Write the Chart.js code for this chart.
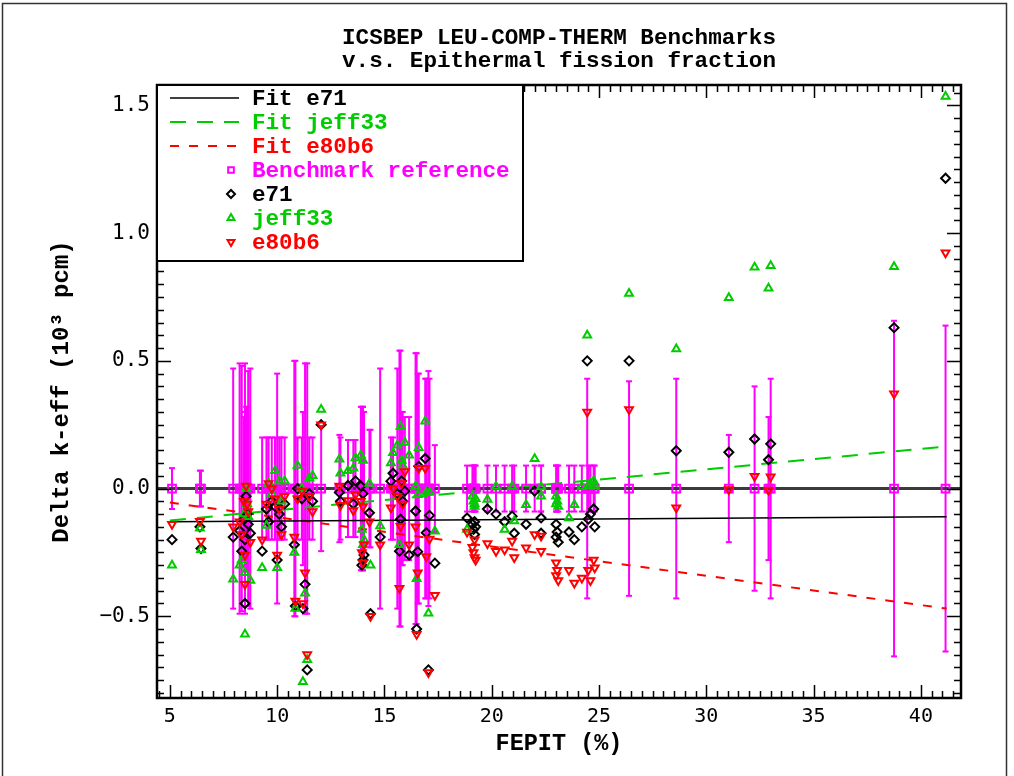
<!DOCTYPE html>
<html>
<head>
<meta charset="utf-8">
<script src="https://cdn.jsdelivr.net/npm/chart.js@4.4.1/dist/chart.umd.min.js"></script>
<style>
  html, body { margin: 0; padding: 0; background: #fff; }
  #wrap { width: 1014px; height: 776px; }
</style>
</head>
<body>
<div id="wrap"><canvas id="myChart" width="1014" height="776"></canvas></div>
<script>
// benchmark FEPIT (%) and reference uncertainty (10^3 pcm)
const fepit = [
  5.1, 6.4, 6.45,
  7.95, 8.25, 8.35, 8.5, 8.55, 8.6, 8.65, 8.75, 8.5, 8.45,
  9.3, 9.5, 9.6, 9.75, 9.9, 10.0, 10.1, 10.2, 10.35,
  10.8, 10.85, 10.95, 11.15, 11.2, 11.3, 11.4, 11.5, 11.65, 12.05,
  12.9, 12.95, 13.3, 13.55, 13.65, 13.9, 13.95, 14.0, 14.0, 14.05, 14.3, 14.35, 14.8,
  15.3, 15.4, 15.6, 15.75, 15.7, 15.8, 15.85, 15.95, 16.15, 16.45, 16.5, 16.6, 16.55, 16.9, 16.95, 17.05, 17.1, 17.35,
  18.85, 19.1, 19.15, 19.2, 19.25, 19.2, 19.8, 20.2, 20.6, 20.95, 21.05, 21.6, 22.0, 22.3, 22.3,
  23.0, 23.05, 23.1, 23.0, 23.6, 23.85, 24.2, 24.5, 24.75, 24.8, 24.6,
  24.45, 26.4, 28.6, 31.05, 32.25, 32.9, 33.0, 38.75, 41.15
];
const refUnc = [
  0.08, 0.07, 0.07,
  0.47, 0.49, 0.48, 0.49, 0.32, 0.32, 0.46, 0.47, 0.30, 0.28,
  0.2, 0.2, 0.2, 0.2, 0.2, 0.45, 0.2, 0.2, 0.2,
  0.50, 0.50, 0.2, 0.2, 0.3, 0.49, 0.49, 0.2, 0.2, 0.245,
  0.21, 0.2, 0.19, 0.19, 0.19, 0.32, 0.32, 0.32, 0.32, 0.30, 0.23, 0.23, 0.47,
  0.2, 0.2, 0.47, 0.54, 0.54, 0.30, 0.30, 0.28, 0.28, 0.53, 0.53, 0.45, 0.45, 0.43, 0.43, 0.46, 0.43, 0.17,
  0.09, 0.09, 0.09, 0.09, 0.09, 0.09, 0.09, 0.09, 0.09, 0.09, 0.09, 0.09, 0.09, 0.09, 0.09,
  0.09, 0.09, 0.09, 0.09, 0.09, 0.09, 0.09, 0.09, 0.09, 0.09, 0.09,
  0.43, 0.42, 0.43, 0.21, 0.40, 0.28, 0.43, 0.657, 0.638
];
// delta k-eff (10^3 pcm) per library
const e71 = [
  -0.20, -0.15, -0.235,
  -0.19, -0.165, -0.245, -0.45, -0.03, -0.10, -0.14, -0.175, -0.20, -0.12,
  -0.245, -0.08, -0.13, -0.05, -0.07, -0.28, -0.10, -0.15, -0.06,
  -0.22, -0.46, 0.0, -0.04, -0.47, -0.375, -0.71, -0.02, -0.05, 0.25,
  -0.015, -0.05, 0.012, -0.06, 0.03, 0.01, -0.30, -0.02, -0.28, -0.26, -0.095, -0.49, -0.19,
  0.029, 0.06, -0.02, -0.12, -0.245, 0.03, -0.05, -0.01, -0.26, -0.088, -0.55, 0.087, -0.247, 0.118, -0.173, -0.71, -0.105, -0.292,
  -0.115, -0.14, -0.16, -0.18, -0.15, -0.13, -0.08, -0.10, -0.13, -0.108, -0.175, -0.14, -0.01, -0.115, -0.175,
  -0.14, -0.17, -0.21, -0.19, -0.17, -0.20, -0.15, -0.12, -0.08, -0.15, -0.10,
  0.50, 0.50, 0.148, 0.142, 0.194, 0.113, 0.175, 0.63, 1.215
];
const jeff33 = [
  -0.30, -0.155, -0.24,
  -0.355, -0.30, -0.28, -0.57, 0.0, -0.06, -0.11, -0.36, -0.33, -0.10,
  -0.31, -0.145, 0.02, -0.02, 0.07, -0.31, 0.03, -0.05, 0.03,
  -0.25, -0.47, 0.09, 0.0, -0.756, -0.41, -0.67, 0.04, 0.05, 0.31,
  0.115, 0.06, 0.07, 0.08, 0.12, 0.13, -0.16, 0.11, -0.22, -0.20, 0.02, -0.30, -0.147,
  0.10, 0.14, 0.17, 0.243, -0.22, 0.11, 0.09, 0.18, 0.13, 0.009, -0.353, 0.16, -0.024, 0.264, -0.015, -0.488, -0.015, -0.167,
  -0.16, -0.03, -0.05, -0.07, -0.04, -0.06, -0.043, 0.008, -0.16, 0.008, -0.127, -0.063, 0.117, 0.006, -0.03,
  -0.03, -0.05, -0.07, -0.06, -0.115, -0.063, 0.008, 0.01, 0.03, 0.01, 0.02,
  0.60, 0.764, 0.546, 0.747, 0.866, 0.784, 0.872, 0.868, 1.535
];
const e80b6 = [
  -0.14, -0.128, -0.205,
  -0.15, -0.13, -0.18, -0.375, 0.01, -0.06, -0.09, -0.21, -0.26, -0.05,
  -0.20, -0.06, 0.02, 0.0, -0.04, -0.26, -0.08, -0.18, -0.03,
  -0.19, -0.44, -0.04, -0.01, -0.45, -0.33, -0.65, -0.03, -0.09, 0.25,
  0.01, -0.065, -0.047, -0.086, -0.023, -0.05, -0.25, -0.07, -0.29, -0.22, -0.13, -0.50, -0.22,
  -0.075, 0.0, -0.03, -0.148, -0.39, 0.02, -0.06, 0.067, -0.22, -0.15, -0.57, 0.08, -0.33, 0.08, -0.266, -0.72, -0.197, -0.418,
  -0.17, -0.23, -0.25, -0.27, -0.28, -0.20, -0.215, -0.245, -0.24, -0.205, -0.27, -0.232, -0.18, -0.186, -0.245,
  -0.29, -0.32, -0.36, -0.34, -0.32, -0.37, -0.35, -0.32, -0.28, -0.31, -0.36,
  0.30, 0.31, -0.075, -0.004, 0.048, -0.006, 0.046, 0.371, 0.923
];
// linear fits, end points
const fitX = [5.0, 41.2];
const fitE71 = [-0.13, -0.11];
const fitJeff33 = [-0.125, 0.165];
const fitE80b6 = [-0.055, -0.47];

const xRange = [4.4, 41.87];
const yRange = [-0.82, 1.58];
const xTicks = [5, 10, 15, 20, 25, 30, 35, 40];
const yTicks = [-0.5, 0.0, 0.5, 1.0, 1.5];

const MAGENTA = '#ff00ff', GREEN = '#00cc00', RED = '#ff0000', BLACK = '#000000';
const CLEAR = 'rgba(0,0,0,0)';

const pts = arr => fepit.map((x, i) => ({ x: x, y: arr[i] }));
const fit = arr => fitX.map((x, i) => ({ x: x, y: arr[i] }));
const errBars = fepit.flatMap((x, i) => [
  { x: x, y: -refUnc[i] }, { x: x, y: refUnc[i] }, { x: x, y: null }
]);

const pointSet = (label, data, color, style, rot, r, order) => ({
  label: label, data: data, showLine: false, order: order,
  pointStyle: style, rotation: rot, pointRadius: r, pointBorderWidth: 2,
  borderColor: color, backgroundColor: CLEAR, legendStyle: 'point'
});
const lineSet = (label, data, color, width, dash, order) => ({
  label: label, data: data, showLine: true, order: order,
  borderColor: color, borderWidth: width, borderDash: dash,
  pointRadius: 0, backgroundColor: color, legendStyle: label ? 'line' : null
});

const datasets = [
  lineSet('Fit e71', fit(fitE71), BLACK, 1.5, [], 7),
  lineSet('Fit jeff33', fit(fitJeff33), GREEN, 2, [16, 11], 7),
  lineSet('Fit e80b6', fit(fitE80b6), RED, 2, [9, 10], 7),
  pointSet('Benchmark reference', fepit.map(x => ({ x: x, y: 0 })), MAGENTA, 'rect', 0, 5.5, 4),
  pointSet('e71', pts(e71), BLACK, 'rectRot', 0, 4.5, 3),
  pointSet('jeff33', pts(jeff33), GREEN, 'triangle', 0, 4.5, 2),
  pointSet('e80b6', pts(e80b6), RED, 'triangle', 180, 4.5, 1),
  // reference zero line and error bars (not in legend)
  Object.assign(lineSet('', xRange.map(x => ({ x: x, y: 0 })), '#3a3a3a', 3, [], 6), { legendStyle: null }),
  {
    label: '', data: errBars, showLine: true, spanGaps: false, order: 9,
    borderColor: MAGENTA, borderWidth: 2, pointStyle: 'line', pointRadius: 3,
    pointBorderWidth: 2, pointBorderColor: MAGENTA, backgroundColor: MAGENTA, legendStyle: null
  }
];

// ticks on all four sides, pointing inward, plus the frame
const frameTicks = {
  id: 'frameTicks',
  afterDatasetsDraw(chart) {
    const { ctx, chartArea: a, scales: { x, y } } = chart;
    ctx.save();
    ctx.strokeStyle = '#000';
    ctx.lineWidth = 1.5;
    ctx.beginPath();
    for (let k = Math.ceil(xRange[0] * 2); k <= Math.floor(xRange[1] * 2); k++) {
      const px = Math.round(x.getPixelForValue(k / 2)) + 0.5;
      const len = k % 10 === 0 ? 13 : 7;
      ctx.moveTo(px, a.bottom); ctx.lineTo(px, a.bottom - len);
      ctx.moveTo(px, a.top); ctx.lineTo(px, a.top + len);
    }
    for (let k = Math.ceil(yRange[0] * 20); k <= Math.floor(yRange[1] * 20); k++) {
      const py = Math.round(y.getPixelForValue(k / 20)) + 0.5;
      const len = k % 10 === 0 ? 14 : 7;
      ctx.moveTo(a.left, py); ctx.lineTo(a.left + len, py);
      ctx.moveTo(a.right, py); ctx.lineTo(a.right - len, py);
    }
    ctx.stroke();
    ctx.lineWidth = 2.5;
    ctx.strokeRect(a.left, a.top, a.right - a.left, a.bottom - a.top);
    ctx.restore();
  }
};

// title, legend box and outer frame
const decorations = {
  id: 'decorations',
  afterDraw(chart) {
    const { ctx, chartArea: a } = chart;
    const cx = (a.left + a.right) / 2;
    ctx.save();
    ctx.fillStyle = '#000';
    ctx.font = 'bold 22.6px "Liberation Mono", monospace';
    ctx.textAlign = 'center';
    ctx.textBaseline = 'middle';
    ctx.fillText('ICSBEP LEU-COMP-THERM Benchmarks', cx, 38);
    ctx.fillText('v.s. Epithermal fission fraction', cx, 61);

    // legend
    const items = chart.data.datasets.filter(d => d.legendStyle);
    const bx = a.left, by = a.top, bw = 366, bh = 176;
    ctx.fillStyle = '#fff';
    ctx.fillRect(bx, by, bw, bh);
    ctx.lineWidth = 2;
    ctx.strokeStyle = '#000';
    ctx.strokeRect(bx, by, bw, bh);
    ctx.textAlign = 'left';
    items.forEach((d, i) => {
      const ry = by + 13 + i * 24;
      if (d.legendStyle === 'line') {
        ctx.save();
        ctx.strokeStyle = d.borderColor;
        ctx.lineWidth = d.borderWidth;
        ctx.setLineDash(d.borderDash);
        ctx.beginPath();
        ctx.moveTo(bx + 13, ry); ctx.lineTo(bx + 82, ry);
        ctx.stroke();
        ctx.restore();
      } else {
        ctx.save();
        ctx.strokeStyle = d.borderColor;
        ctx.fillStyle = CLEAR;
        Chart.helpers.drawPoint(ctx, {
          pointStyle: d.pointStyle, rotation: d.rotation,
          radius: Math.min(d.pointRadius, 4), borderWidth: 2
        }, bx + 74, ry);
        ctx.restore();
      }
      ctx.fillStyle = d.borderColor;
      ctx.fillText(d.label, bx + 95, ry + 1);
    });

    ctx.lineWidth = 1.5;
    ctx.strokeStyle = '#333';
    ctx.strokeRect(2.5, 3.5, 1004, 800);
    ctx.restore();
  }
};

const config = {
  type: 'scatter',
  data: { datasets: datasets },
  options: {
    responsive: false,
    animation: false,
    events: [],
    layout: { padding: { left: 0, top: 85, right: 53, bottom: 0 } },
    plugins: {
      legend: { display: false },
      title: { display: false },
      tooltip: { enabled: false }
    },
    scales: {
      x: {
        type: 'linear',
        min: xRange[0], max: xRange[1],
        afterBuildTicks: s => { s.ticks = xTicks.map(v => ({ value: v })); },
        afterFit: s => { s.height = 78; },
        grid: { display: false, drawTicks: false },
        border: { display: true, color: '#000', width: 2 },
        ticks: {
          autoSkip: false, maxRotation: 0, padding: 7, color: '#000',
          font: { family: '"DejaVu Sans Mono", monospace', size: 20 },
          callback: v => String(v)
        },
        title: {
          display: true, text: 'FEPIT (%)', color: '#000',
          font: { family: '"Liberation Mono", monospace', size: 23.5, weight: 'bold' },
          padding: { top: 0, bottom: 18 }
        }
      },
      y: {
        type: 'linear',
        min: yRange[0], max: yRange[1],
        afterBuildTicks: s => { s.ticks = yTicks.map(v => ({ value: v })); },
        afterFit: s => { s.width = 157; },
        grid: { display: false, drawTicks: false },
        border: { display: true, color: '#000', width: 2 },
        ticks: {
          padding: 7, color: '#000',
          font: { family: '"DejaVu Sans Mono", monospace', size: 21 },
          callback: v => (v < 0 ? '\u2212' : '') + Math.abs(v).toFixed(1)
        },
        title: {
          display: true, text: 'Delta k-eff (10\u00b3 pcm)', color: '#000',
          font: { family: '"Liberation Mono", monospace', size: 24, weight: 'bold' },
          padding: { top: 48, bottom: 0 }
        }
      }
    }
  },
  plugins: [frameTicks, decorations]
};

const myChart = new Chart(document.getElementById('myChart'), config);
</script>
</body>
</html>
